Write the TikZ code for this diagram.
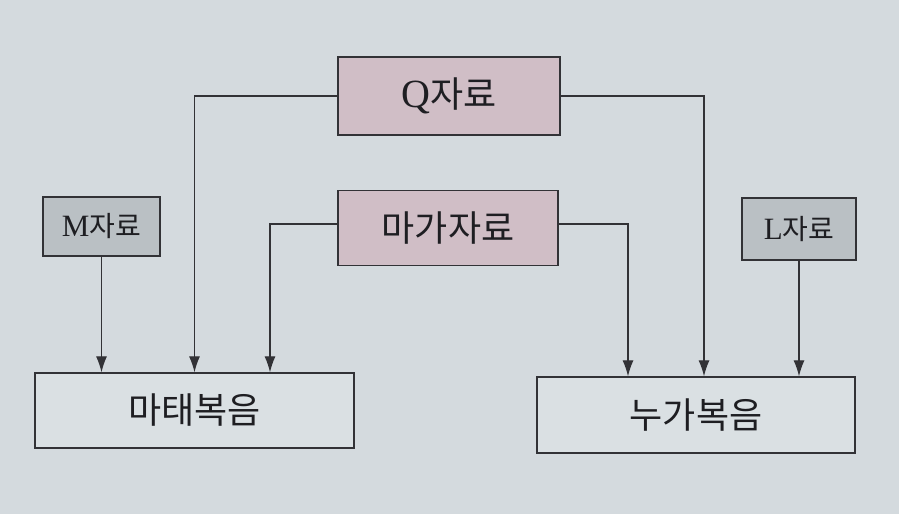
\documentclass[tikz,border=0pt]{standalone}
\usepackage{fontspec}
\newfontfamily\cjk{Noto Sans CJK KR}
\newfontfamily\lat{Liberation Serif}
\usetikzlibrary{arrows.meta}
\definecolor{bgc}{RGB}{212,218,222}
\definecolor{pinkc}{RGB}{208,190,198}
\definecolor{grayc}{RGB}{186,192,196}
\definecolor{linec}{RGB}{50,50,54}
\definecolor{textc}{RGB}{30,30,34}
\newcommand{\Lt}[1]{{\lat\fontsize{1.12em}{1em}\selectfont #1}}
\begin{document}
\begin{tikzpicture}[x=1pt,y=-1pt,
  box/.style={draw=linec, line width=1.3pt, inner sep=0pt, text=textc},
  bigbox/.style={box, font=\fontsize{36}{40}\selectfont},
  smallbox/.style={box, font=\fontsize{28}{32}\selectfont},
  conn/.style={draw=linec, line width=1.2pt, -{Latex[length=16pt,width=11pt]}}]
\fill[bgc] (0,0) rectangle (899,514);
\useasboundingbox (0,0) rectangle (899,514);
\node[bigbox, fill=pinkc, minimum width=222pt, minimum height=78pt] (q) at (449,96) {{\lat\fontsize{40}{40}\selectfont Q}{\cjk 자료}};
\node[bigbox, fill=pinkc, minimum width=220pt, minimum height=75pt] (mg) at (448,228) {\cjk 마가자료};
\node[smallbox, fill=grayc, minimum width=117pt, minimum height=59pt] (m) at (101.5,226.5) {{\lat\fontsize{31}{32}\selectfont M}{\cjk 자료}};
\node[smallbox, fill=grayc, minimum width=114pt, minimum height=62pt] (l) at (799,229) {{\lat\fontsize{31}{32}\selectfont L}{\cjk 자료}};
\node[bigbox, fill=bgc!85!white, minimum width=319pt, minimum height=75pt] (mat) at (194.5,410.5) {\cjk 마태복음};
\node[bigbox, fill=bgc!85!white, minimum width=318pt, minimum height=76pt] (luk) at (696,415) {\cjk 누가복음};
\draw[conn] (m.south) -- (m.south |- mat.north);
\draw[conn] (q.west) -| (mat.north);
\draw[conn] ([yshift=4pt]mg.west) -| ([xshift=75.5pt]mat.north);
\draw[conn] (q.east) -| ([xshift=8pt]luk.north);
\draw[conn] ([yshift=4pt]mg.east) -| ([xshift=-68pt]luk.north);
\draw[conn] (l.south) -- (l.south |- luk.north);
\end{tikzpicture}
\end{document}
